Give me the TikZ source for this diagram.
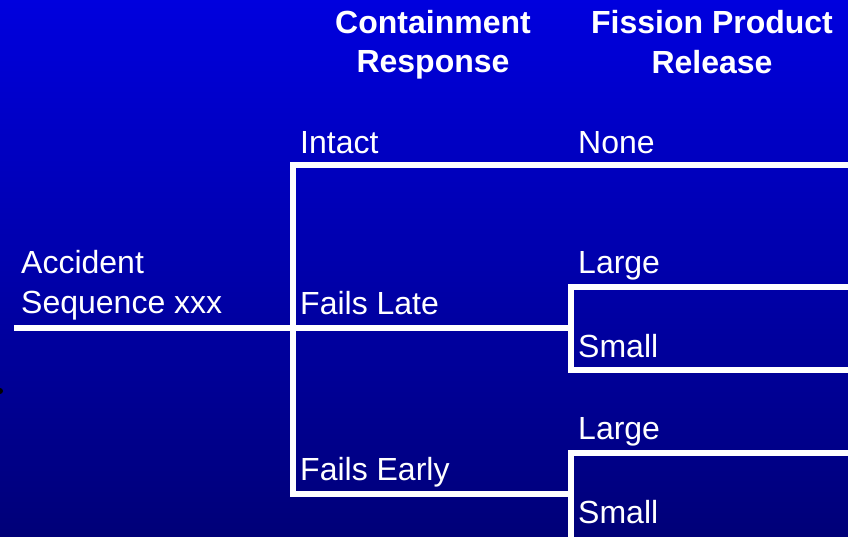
\documentclass[tikz,border=0pt]{standalone}
\usepackage{fontspec}
\setmainfont{Liberation Sans}
\begin{document}
\begin{tikzpicture}[x=1pt,y=-1pt,
  lbl/.style={anchor=base west,inner sep=0pt,text=white,font=\fontsize{32}{38}\selectfont},
  hdr/.style={anchor=base,inner sep=0pt,text=white,font=\fontsize{32}{38}\selectfont\bfseries},
  branch/.style={draw=white,line width=6pt,line join=miter,line cap=butt}]
\useasboundingbox (0,0) rectangle (848,536);
\clip (0,0) rectangle (848,536);
\shade[top color={rgb,255:red,0;green,0;blue,222},bottom color={rgb,255:red,0;green,0;blue,120}] (0,0) rectangle (848,536);
% small artifact at left edge
\fill[black] (0,391) circle (3);
% headers
\node[hdr] (h1a) at (433,33) {Containment};
\node[hdr] (h1b) at (433,72) {Response};
\node[hdr] (h2a) at (712,33) {Fission Product};
\node[hdr] (h2b) at (712,73) {Release};
% junction coordinates
\coordinate (start) at (14,328);
\coordinate (j1) at (293,328);
\coordinate (j1t) at (293,165);
\coordinate (j1b) at (293,494);
\coordinate (endT) at (852,165);
\coordinate (j2) at (571,328);
\coordinate (j2t) at (571,287);
\coordinate (j2b) at (571,370);
\coordinate (endML) at (852,287);
\coordinate (endMS) at (852,370);
\coordinate (j3) at (571,494);
\coordinate (j3t) at (571,453);
\coordinate (j3b) at (571,540);
\coordinate (endBL) at (852,453);
% branches
\draw[branch] (start) -- (j2);
\draw[branch] (endT) -- (j1t) -- (j1b) -- (j3);
\draw[branch] (endML) -- (j2t) -- (j2b) -- (endMS);
\draw[branch] (endBL) -- (j3t) -- (j3b);
% labels
\node[lbl] (acc1) at (21,273) {Accident};
\node[lbl] (acc2) at (21,313) {Sequence xxx};
\node[lbl] (intact) at (300,153) {Intact};
\node[lbl] (late) at (300,314) {Fails Late};
\node[lbl] (early) at (300,480) {Fails Early};
\node[lbl] (none) at (578,153) {None};
\node[lbl] (large1) at (578,273) {Large};
\node[lbl] (small1) at (578,357) {Small};
\node[lbl] (large2) at (578,439) {Large};
\node[lbl] (small2) at (578,523) {Small};
\end{tikzpicture}
\end{document}
